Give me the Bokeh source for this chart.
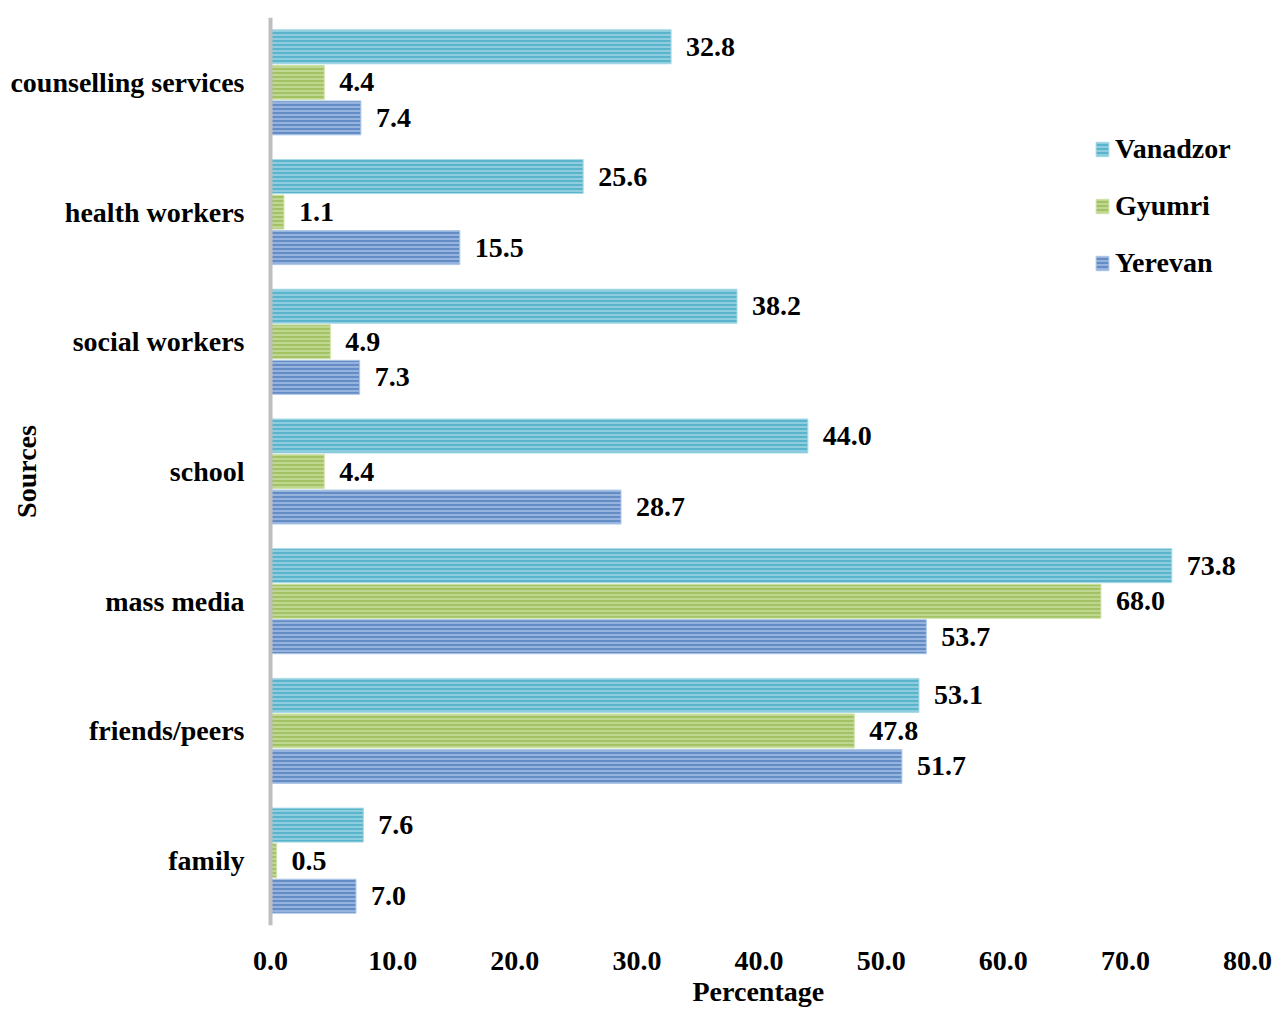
from bokeh.plotting import figure
from bokeh.models import ColumnDataSource, FactorRange, Legend, LegendItem, Label, LabelSet, Span, Title
from bokeh.transform import dodge
from bokeh.embed import file_html
from bokeh.resources import INLINE

categories = ["counselling services", "health workers", "social workers", "school",
              "mass media", "friends/peers", "family"]
vanadzor = [32.8, 25.6, 38.2, 44.0, 73.8, 53.1, 7.6]
gyumri = [4.4, 1.1, 4.9, 4.4, 68.0, 47.8, 0.5]
yerevan = [7.4, 15.5, 7.3, 28.7, 53.7, 51.7, 7.0]
series_names = ["Vanadzor", "Gyumri", "Yerevan"]
x_ticks = [0, 10, 20, 30, 40, 50, 60, 70, 80]

FONT = "Liberation Serif"
FS = "28px"

src = ColumnDataSource(dict(
    cat=categories,
    zero=[0] * len(categories),
    v=vanadzor, g=gyumri, y=yerevan,
    vl=[f"{a:.1f}" for a in vanadzor],
    gl=[f"{a:.1f}" for a in gyumri],
    yl=[f"{a:.1f}" for a in yerevan],
))

p = figure(width=1274, height=1012, output_backend="svg", toolbar_location=None,
           y_range=FactorRange(factors=categories[::-1], range_padding=0),
           x_range=(-22.11, 80),
           min_border_left=0, min_border_right=27, min_border_top=17, min_border_bottom=87)
p.background_fill_color = "white"
p.border_fill_color = "white"
p.outline_line_color = None
p.grid.visible = False

styles = [
    ("v", "vl", 0.274, "#5AB4CB", "#A8DAE7"),
    ("g", "gl", 0.0, "#A2C263", "#D0E3AC"),
    ("y", "yl", -0.274, "#648DC6", "#B0C8E8"),
]
renderers = []
for col, lab, off, base, light in styles:
    r = p.hbar(y=dodge("cat", off, range=p.y_range), right=col, left=0, height=0.262,
               source=src, fill_color=base, line_color=light, line_width=1,
               hatch_pattern="horizontal_line", hatch_color=light, hatch_scale=4,
               hatch_weight=1.3)
    renderers.append(r)
    ls = LabelSet(x=col, y=dodge("cat", off, range=p.y_range), text=lab, source=src,
                  x_offset=15, y_offset=0, text_baseline="middle", text_align="left",
                  text_font=FONT, text_font_size=FS, text_font_style="bold",
                  text_color="black")
    p.add_layout(ls)

# vertical category axis line
p.add_layout(Span(location=0, dimension="height", line_color="#BFBFBF", line_width=4))

# category labels (y axis tick labels)
cat_labels = LabelSet(x="zero", y="cat", text="cat", source=src, x_offset=-26,
                      text_align="right", text_baseline="middle",
                      text_font=FONT, text_font_size=FS, text_font_style="bold",
                      text_color="black")
p.add_layout(cat_labels)

sources_lbl = Label(x=-19.95, y=3.5, text="Sources", angle=1.5708,
                    text_align="center", text_baseline="middle",
                    text_font=FONT, text_font_size=FS, text_font_style="bold",
                    text_color="black")
p.add_layout(sources_lbl)

p.yaxis.visible = False

# x axis
p.xaxis.ticker = x_ticks
p.xaxis.major_label_overrides = {t: f"{t:.1f}" for t in x_ticks}
p.xaxis.axis_line_color = None
p.xaxis.major_tick_line_color = None
p.xaxis.minor_tick_line_color = None
p.xaxis.major_label_standoff = 20
p.xaxis.major_label_text_font = FONT
p.xaxis.major_label_text_font_size = FS
p.xaxis.major_label_text_font_style = "bold"
p.xaxis.major_label_text_color = "black"

x_title = Title(text="Percentage", align="left", offset=692, standoff=2,
                text_font=FONT, text_font_size=FS, text_font_style="bold",
                text_color="black")
p.add_layout(x_title, "below")

legend = Legend(items=[LegendItem(label=n, renderers=[r]) for n, r in zip(series_names, renderers)],
                location=(1094, 646), orientation="vertical",
                label_text_font=FONT, label_text_font_size=FS, label_text_font_style="bold",
                label_text_color="black", glyph_width=16, glyph_height=18,
                label_height=30, spacing=25, padding=0, margin=0, label_standoff=5,
                border_line_color=None, background_fill_alpha=0)
p.add_layout(legend)

open("out.html", "w").write(file_html(p, INLINE))
